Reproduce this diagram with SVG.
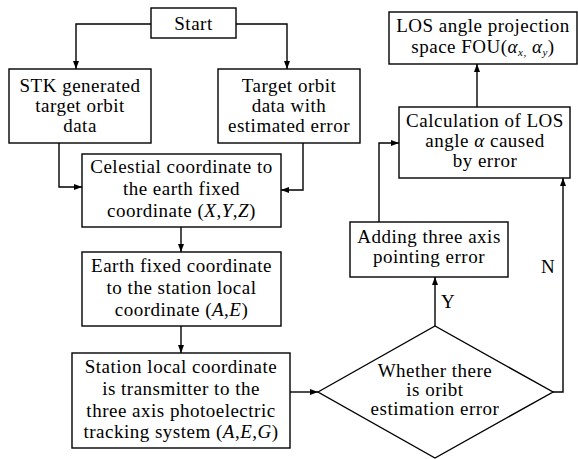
<svg xmlns="http://www.w3.org/2000/svg" width="578" height="459" viewBox="0 0 578 459">
<defs>
<marker id="ah" viewBox="0 0 8 6" refX="8" refY="3" markerWidth="8" markerHeight="6" markerUnits="userSpaceOnUse" orient="auto">
<path d="M0,0 L8,3 L0,6 Z" fill="#000"/>
</marker>
</defs>
<style>
.box{fill:#fff;stroke:#000;stroke-width:1.4}
.t{font-family:"Liberation Serif","Times New Roman",serif;font-size:19px;letter-spacing:0.5px;fill:#000;text-anchor:middle}
.i{font-style:italic}
.c{fill:none;stroke:#000;stroke-width:1.4;marker-end:url(#ah)}
.sub{font-size:11px;font-style:italic}
</style>
<rect width="578" height="459" fill="#fff"/>
<g id="connectors">
<path class="c" d="M151,24 H76 V69"/>
<path class="c" d="M236,24 H287 V69"/>
<path class="c" d="M59,143 V187 H82"/>
<path class="c" d="M303,143 V190 H281"/>
<path class="c" d="M181,227 V252"/>
<path class="c" d="M181,326 V353"/>
<path class="c" d="M290,392 H318"/>
<path class="c" d="M435,326 V277"/>
<path class="c" d="M379,222 V143 H399"/>
<path class="c" d="M553,392 H563 V178"/>
<path class="c" d="M477,107 V64"/>
<text class="t" x="448" y="308">Y</text>
<text class="t" x="548" y="273">N</text>
</g>
<g id="start">
<rect class="box" x="151" y="8" width="85" height="30"/>
<text class="t" x="193.5" y="30">Start</text>
</g>
<g id="stk">
<rect class="box" x="9" y="69" width="142" height="74"/>
<text class="t" x="80" y="92">STK generated</text>
<text class="t" x="80" y="112">target orbit</text>
<text class="t" x="80" y="132">data</text>
</g>
<g id="target">
<rect class="box" x="218" y="69" width="142" height="74"/>
<text class="t" x="289" y="92">Target orbit</text>
<text class="t" x="289" y="112">data with</text>
<text class="t" x="289" y="132">estimated error</text>
</g>
<g id="celestial">
<rect class="box" x="82" y="154" width="199" height="73"/>
<text class="t" x="181.5" y="173">Celestial coordinate to</text>
<text class="t" x="181.5" y="195">the earth fixed</text>
<text class="t" x="181.5" y="217">coordinate (<tspan class="i">X</tspan>,<tspan class="i">Y</tspan>,<tspan class="i">Z</tspan>)</text>
</g>
<g id="earth">
<rect class="box" x="82" y="252" width="199" height="74"/>
<text class="t" x="181.5" y="272">Earth fixed coordinate</text>
<text class="t" x="181.5" y="294">to the station local</text>
<text class="t" x="181.5" y="316">coordinate (<tspan class="i">A</tspan>,<tspan class="i">E</tspan>)</text>
</g>
<g id="station">
<rect class="box" x="72" y="353" width="218" height="95"/>
<text class="t" x="181" y="373">Station local coordinate</text>
<text class="t" x="181" y="395">is transmitter to the</text>
<text class="t" x="181" y="417">three axis photoelectric</text>
<text class="t" x="181" y="438">tracking system (<tspan class="i">A</tspan>,<tspan class="i">E</tspan>,<tspan class="i">G</tspan>)</text>
</g>
<g id="decision">
<polygon class="box" points="318,392 435,326 553,392 435,458"/>
<text class="t" x="435" y="377">Whether there</text>
<text class="t" x="435" y="396">is oribt</text>
<text class="t" x="435" y="415">estimation error</text>
</g>
<g id="adding">
<rect class="box" x="350" y="222" width="158" height="55"/>
<text class="t" x="429" y="243">Adding three axis</text>
<text class="t" x="429" y="263">pointing error</text>
</g>
<g id="calc">
<rect class="box" x="399" y="107" width="171" height="71"/>
<text class="t" x="485" y="127">Calculation of LOS</text>
<text class="t" x="485" y="147">angle <tspan class="i">α</tspan> caused</text>
<text class="t" x="485" y="167">by error</text>
</g>
<g id="los">
<rect class="box" x="389" y="12" width="188" height="52"/>
<text class="t" x="483" y="32">LOS angle projection</text>
<text class="t" x="483" y="53">space FOU(<tspan class="i">α</tspan><tspan class="sub" dy="3">x,</tspan><tspan dy="-3"> </tspan><tspan class="i">α</tspan><tspan class="sub" dy="3">y</tspan><tspan dy="-3">)</tspan></text>
</g>
</svg>
